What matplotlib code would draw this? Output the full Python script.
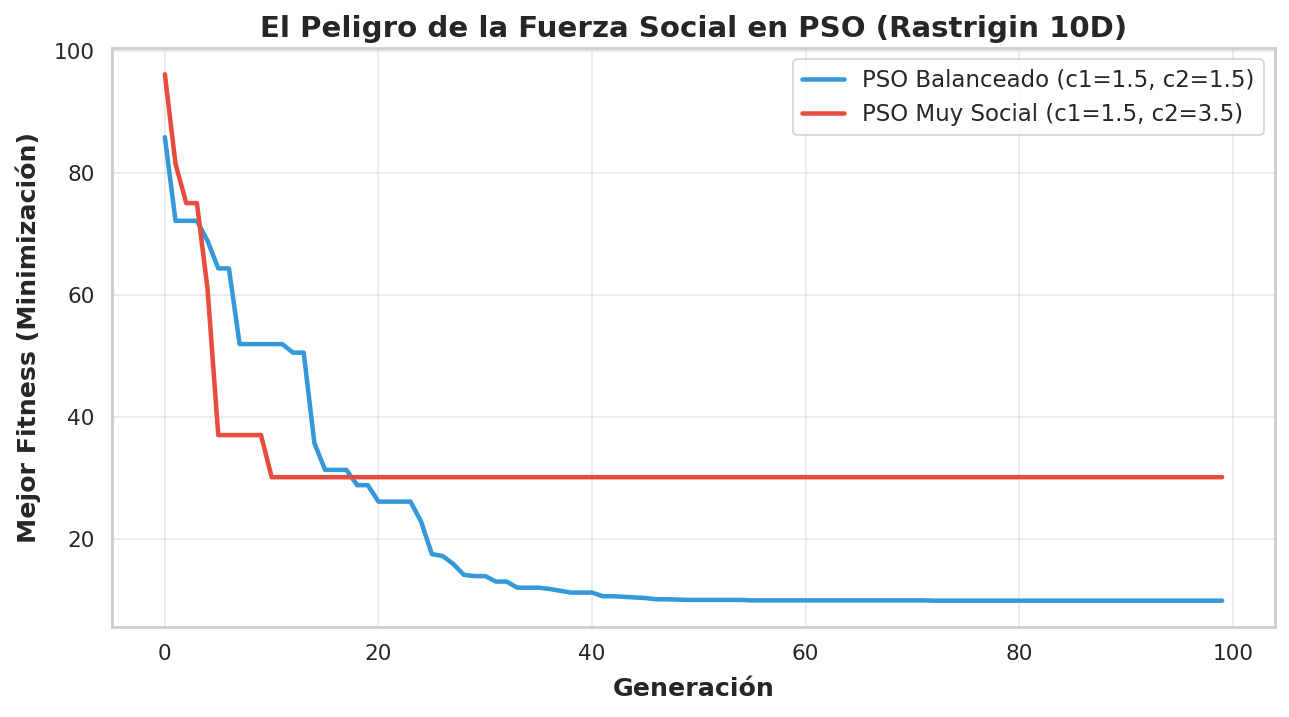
import matplotlib
matplotlib.use("Agg")
import matplotlib.pyplot as plt
import seaborn as sns

sns.set_theme(style="whitegrid", context="notebook")
plt.rcParams['font.family'] = ['DejaVu Sans']

generations = list(range(100))

balanced = ([85.8, 72.1, 72.1, 72.1, 68.8, 64.3, 64.3, 51.9, 51.9, 51.9,
             51.9, 51.9, 50.5, 50.5, 35.7, 31.3, 31.3, 31.3, 28.8, 28.8,
             26.1, 26.1, 26.1, 26.1, 22.8, 17.5, 17.2, 15.9, 14.1, 13.9,
             13.9, 13.0, 13.0, 12.0, 12.0, 12.0, 11.8, 11.5, 11.2, 11.2,
             11.2, 10.6, 10.6, 10.5, 10.4, 10.3, 10.1, 10.1, 10.05, 10.0,
             10.0, 10.0, 10.0, 10.0, 10.0]
            + [9.92] * 17
            + [9.87] * 28)

social = ([96.1, 81.4, 75.0, 75.0, 60.9, 37.0, 37.0, 37.0, 37.0, 37.0]
          + [30.1] * 90)

labels = ["PSO Balanceado (c1=1.5, c2=1.5)", "PSO Muy Social (c1=1.5, c2=3.5)"]
colors = ["#3498db", "#e74c3c"]

fig = plt.figure(figsize=(1289/130, 717/130), dpi=130)
ax = fig.add_axes([112/1289, 1-627/717, (1275-112)/1289, (627-48)/717])

ax.plot(generations, balanced, color=colors[0], lw=2.5, label=labels[0])
ax.plot(generations, social, color=colors[1], lw=2.5, label=labels[1])

ax.set_title("El Peligro de la Fuerza Social en PSO (Rastrigin 10D)",
             fontsize=16.2, fontweight="bold", pad=6)
ax.set_xlabel("Generación", fontsize=14, fontweight="bold", labelpad=7)
ax.set_ylabel("Mejor Fitness (Minimización)", fontsize=14, fontweight="bold", labelpad=7)
ax.tick_params(axis="both", labelsize=12)
ax.grid(True, alpha=0.4)
ax.legend(loc="upper right", fontsize=12.7, handlelength=1.8)
for s in ax.spines.values():
    s.set_linewidth(1.5)

fig.savefig("out.png", dpi=130)
